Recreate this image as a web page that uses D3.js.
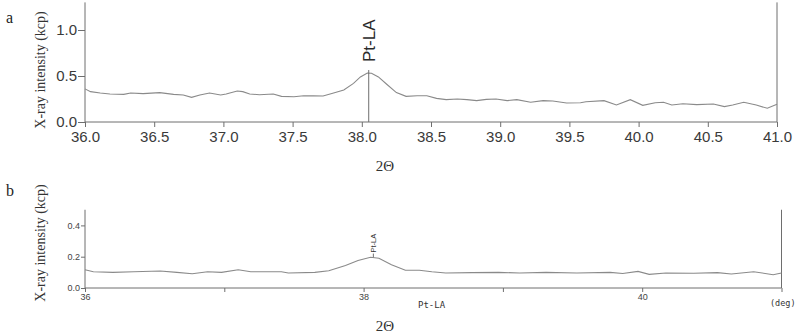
<!DOCTYPE html>
<html>
<head>
<meta charset="utf-8">
<script src="https://cdn.jsdelivr.net/npm/d3@7"></script>
<style>
  body { margin: 0; background: #fff; }
  svg { display: block; }
</style>
</head>
<body>
<div id="chart"></div>
<script>
var WIDTH = 800;
var HEIGHT = 333;

// panel a : scan
var thetaA = [36.00,36.04,36.11,36.18,36.28,36.33,36.42,36.54,36.64,36.71,36.77,36.83,36.90,36.98,37.02,37.10,37.14,37.19,37.26,37.36,37.42,37.51,37.58,37.65,37.72,37.79,37.87,37.94,37.99,38.04,38.07,38.12,38.18,38.25,38.32,38.40,38.47,38.54,38.61,38.69,38.76,38.83,38.90,38.97,39.05,39.12,39.22,39.31,39.38,39.48,39.58,39.62,39.75,39.84,39.94,40.03,40.12,40.18,40.24,40.32,40.42,40.54,40.62,40.68,40.76,40.85,40.93,41.00];
var intensityA = [0.36,0.33,0.315,0.304,0.30,0.315,0.308,0.319,0.30,0.293,0.268,0.293,0.315,0.293,0.304,0.337,0.33,0.304,0.297,0.304,0.279,0.275,0.286,0.284,0.282,0.312,0.348,0.42,0.49,0.533,0.53,0.49,0.41,0.32,0.279,0.286,0.286,0.257,0.243,0.25,0.243,0.232,0.246,0.25,0.232,0.243,0.214,0.232,0.228,0.206,0.21,0.22,0.232,0.185,0.243,0.181,0.21,0.214,0.185,0.199,0.189,0.196,0.167,0.185,0.214,0.185,0.149,0.192];
var ticksXA = [36.0,36.5,37.0,37.5,38.0,38.5,39.0,39.5,40.0,40.5,41.0];
var ticksYA = [0.0,0.5,1.0];

// panel b
var thetaB = [36.00,36.06,36.20,36.35,36.54,36.66,36.77,36.88,36.98,37.10,37.19,37.31,37.41,37.46,37.65,37.75,37.87,37.96,38.05,38.11,38.20,38.30,38.40,38.49,38.59,38.78,38.97,39.12,39.31,39.53,39.77,39.86,39.97,40.05,40.17,40.37,40.54,40.64,40.80,40.94,41.00];
var intensityB = [0.117,0.104,0.10,0.104,0.109,0.10,0.091,0.104,0.10,0.117,0.104,0.104,0.104,0.096,0.10,0.11,0.144,0.176,0.196,0.19,0.149,0.113,0.113,0.104,0.096,0.098,0.10,0.096,0.10,0.096,0.10,0.093,0.106,0.087,0.096,0.094,0.098,0.089,0.104,0.085,0.096];
var ticksXB = [36,37,38,39,40,41];
var ticksYB = [0.0,0.2,0.4];

// peak label
var peakName = "Pt-LA";
var peakA = {theta: 38.05, top: 0.565};
var peakB = {theta: 38.07, y0: 0.196, y1: 0.22};

var LINE = "#8a8a8a";
var AXIS = "#6e6e6e";
var SERIF = "'Liberation Serif','Times New Roman',serif";
var SANS = "'Liberation Sans',Arial,sans-serif";

var svg = d3.select("#chart").append("svg")
    .attr("width", WIDTH).attr("height", HEIGHT);

function styleAxis(g, size, col) {
  g.select(".domain").remove();
  g.selectAll("line").attr("stroke", AXIS);
  g.selectAll("text")
    .style("font-family", SANS)
    .style("font-size", size + "px")
    .attr("fill", col);
}

// ---------- panel a ----------
var xA = d3.scaleLinear().domain([36, 41]).range([85, 777]);
var yA = d3.scaleLinear().domain([0, 1.3]).range([122, 122 - 1.3 * 92]);

var gA = svg.append("g");

var axA = gA.append("g").attr("transform", "translate(0," + yA(0) + ")")
    .call(d3.axisBottom(xA).tickValues(ticksXA).tickFormat(d3.format(".1f")).tickSize(5).tickPadding(4));
styleAxis(axA, 15, "#3a3a3a");

var ayA = gA.append("g").attr("transform", "translate(" + xA(36) + ",0)")
    .call(d3.axisLeft(yA).tickValues(ticksYA).tickFormat(d3.format(".1f")).tickSize(7).tickPadding(1));
styleAxis(ayA, 15, "#3a3a3a");

// frame lines
gA.append("line").attr("x1", xA(36)).attr("x2", xA(41)).attr("y1", yA(0)).attr("y2", yA(0)).attr("stroke", AXIS);
gA.append("line").attr("x1", xA(36)).attr("x2", xA(36)).attr("y1", yA(0)).attr("y2", yA(1.3)).attr("stroke", AXIS);
gA.append("line").attr("x1", xA(41)).attr("x2", xA(41)).attr("y1", yA(0)).attr("y2", yA(1.3)).attr("stroke", AXIS);

var lineA = d3.line().x(function (d, i) { return xA(thetaA[i]); }).y(function (d) { return yA(d); });
gA.append("path").datum(intensityA).attr("d", lineA)
    .attr("fill", "none").attr("stroke", LINE).attr("stroke-width", 1.1);

gA.append("line")
    .attr("x1", xA(peakA.theta)).attr("x2", xA(peakA.theta))
    .attr("y1", yA(0)).attr("y2", yA(peakA.top))
    .attr("stroke", AXIS);
gA.append("text")
    .attr("transform", "translate(" + (xA(peakA.theta) + 6) + "," + (yA(peakA.top) - 8) + ") rotate(-90)")
    .style("font-family", SANS).style("font-size", "17px").attr("fill", "#2a2a2a")
    .text(peakName);

gA.append("text")
    .attr("transform", "translate(45,70) rotate(-90)")
    .attr("text-anchor", "middle")
    .style("font-family", SERIF).style("font-size", "14px").attr("fill", "#333")
    .text("X-ray intensity (kcp)");
gA.append("text").attr("x", 385).attr("y", 171).attr("text-anchor", "middle")
    .style("font-family", SERIF).style("font-size", "15px").attr("fill", "#333")
    .text("2\u0398");
gA.append("text").attr("x", 6).attr("y", 23)
    .style("font-family", SERIF).style("font-size", "16px").attr("fill", "#222")
    .text("a");

// ---------- panel b ----------
var xB = d3.scaleLinear().domain([36, 41]).range([85, 781.5]);
var yB = d3.scaleLinear().domain([0, 0.5]).range([288, 288 - 0.5 * 156.5]);

var gB = svg.append("g");

var axB = gB.append("g").attr("transform", "translate(0," + yB(0) + ")")
    .call(d3.axisBottom(xB).tickValues(ticksXB)
      .tickFormat(function (d) { return (d % 2 === 0 && d < 41) ? d : ""; })
      .tickSize(4).tickPadding(2));
styleAxis(axB, 9, "#444");

var ayB = gB.append("g").attr("transform", "translate(" + xB(36) + ",0)")
    .call(d3.axisLeft(yB).tickValues(ticksYB).tickFormat(d3.format(".1f")).tickSize(4).tickPadding(1));
styleAxis(ayB, 9, "#444");

gB.append("line").attr("x1", xB(36)).attr("x2", xB(41)).attr("y1", yB(0)).attr("y2", yB(0)).attr("stroke", AXIS);
gB.append("line").attr("x1", xB(36)).attr("x2", xB(36)).attr("y1", yB(0)).attr("y2", yB(0.5)).attr("stroke", AXIS);
gB.append("line").attr("x1", xB(41)).attr("x2", xB(41)).attr("y1", yB(0)).attr("y2", yB(0.5)).attr("stroke", AXIS);

var lineB = d3.line().x(function (d, i) { return xB(thetaB[i]); }).y(function (d) { return yB(d); });
gB.append("path").datum(intensityB).attr("d", lineB)
    .attr("fill", "none").attr("stroke", LINE).attr("stroke-width", 1.1);

gB.append("line")
    .attr("x1", xB(peakB.theta)).attr("x2", xB(peakB.theta))
    .attr("y1", yB(peakB.y0)).attr("y2", yB(peakB.y1))
    .attr("stroke", AXIS);
gB.append("text")
    .attr("transform", "translate(" + (xB(peakB.theta) + 2.5) + "," + (yB(peakB.y1) - 1) + ") rotate(-90)")
    .style("font-family", SANS).style("font-size", "7.5px").attr("fill", "#333")
    .text(peakName);

gB.append("text").attr("x", 418).attr("y", 308)
    .style("font-family", "'DejaVu Sans Mono',monospace").style("font-size", "9px").attr("fill", "#333")
    .text(peakName);
gB.append("text").attr("x", 770).attr("y", 306)
    .style("font-family", "'DejaVu Sans Mono',monospace").style("font-size", "8.5px").attr("fill", "#333")
    .text("(deg)");

gB.append("text")
    .attr("transform", "translate(45,243) rotate(-90)")
    .attr("text-anchor", "middle")
    .style("font-family", SERIF).style("font-size", "14px").attr("fill", "#333")
    .text("X-ray intensity (kcp)");
gB.append("text").attr("x", 385).attr("y", 331).attr("text-anchor", "middle")
    .style("font-family", SERIF).style("font-size", "15px").attr("fill", "#333")
    .text("2\u0398");
gB.append("text").attr("x", 6).attr("y", 196)
    .style("font-family", SERIF).style("font-size", "16px").attr("fill", "#222")
    .text("b");
</script>
</body>
</html>
